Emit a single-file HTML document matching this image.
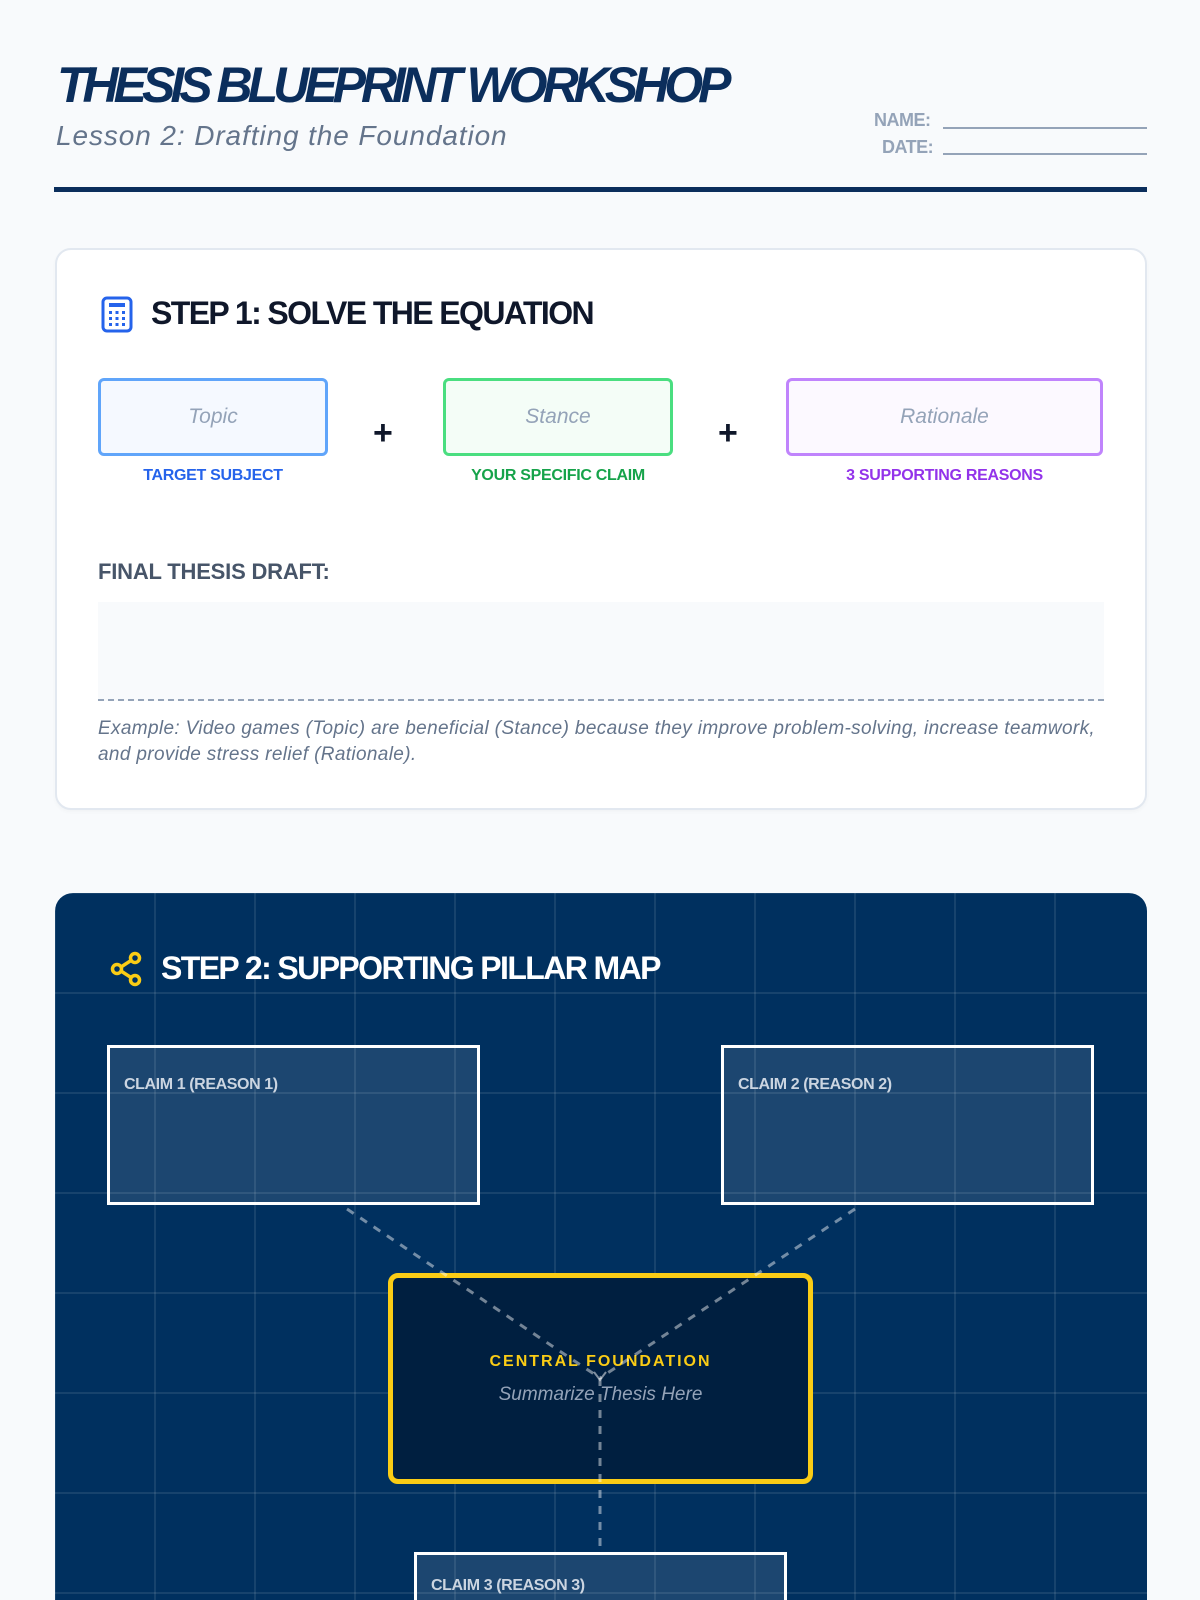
<!DOCTYPE html>
<html><head><meta charset="utf-8"><style>
*{margin:0;padding:0;box-sizing:border-box}
html,body{width:1200px;height:1600px;overflow:hidden}
body{background:#f8fafc;font-family:"Liberation Sans",sans-serif;position:relative}
.a{position:absolute;white-space:nowrap}
.h{font-weight:bold;letter-spacing:-1.6px}
.box{position:absolute;border:3px solid;border-radius:6px;display:flex;align-items:center;justify-content:center;font-style:italic;font-size:21px;color:#94a3b8}
.lbl{position:absolute;font-weight:bold;font-size:16px;text-align:center;letter-spacing:-0.3px}
.claim{position:absolute;border:3px solid #fff;background:rgba(255,255,255,0.11)}
.claim span{position:absolute;left:14px;top:28px;font-size:16px;font-weight:bold;color:#cbd5e1;letter-spacing:-0.4px}
</style></head><body>
<div class="a" style="left:57px;top:56px;font-size:50px;font-weight:bold;font-style:italic;color:#0b2e5c;letter-spacing:-5px;">THESIS BLUEPRINT WORKSHOP</div>
<div class="a" style="left:56px;top:120px;font-size:28px;font-style:italic;color:#64748b;letter-spacing:0.9px">Lesson 2: Drafting the Foundation</div>
<div class="a" style="left:874px;top:110px;font-size:18px;font-weight:bold;color:#94a3b8;letter-spacing:-0.5px">NAME:</div>
<div class="a" style="left:882px;top:137px;font-size:18px;font-weight:bold;color:#94a3b8;letter-spacing:-0.5px">DATE:</div>
<div class="a" style="left:943px;top:127px;width:204px;border-top:2px solid #94a3b8"></div>
<div class="a" style="left:943px;top:153px;width:204px;border-top:2px solid #94a3b8"></div>
<div class="a" style="left:54px;top:187px;width:1093px;height:5px;background:#0b2e5c"></div>

<div class="a" style="left:55px;top:248px;width:1092px;height:562px;background:#fff;border:2px solid #e2e8f0;border-radius:16px;box-shadow:0 2px 4px rgba(0,0,0,0.03)"></div>
<svg class="a" style="left:101px;top:296px" width="32" height="37" viewBox="0 0 32 37"><rect x="2" y="2" width="28" height="33" rx="4" fill="none" stroke="#2563eb" stroke-width="3"/><rect x="8" y="7" width="16" height="4" fill="#2563eb"/><g fill="#2563eb"><rect x="8" y="15" width="3" height="3"/><rect x="14.5" y="15" width="3" height="3"/><rect x="21" y="15" width="3" height="3"/><rect x="8" y="21" width="3" height="3"/><rect x="14.5" y="21" width="3" height="3"/><rect x="21" y="21" width="3" height="3"/><rect x="8" y="27" width="3" height="3"/><rect x="14.5" y="27" width="3" height="3"/><rect x="21" y="27" width="3" height="3"/></g></svg>
<div class="a h" style="left:151px;top:295px;font-size:32px;color:#0f172a">STEP 1: SOLVE THE EQUATION</div>

<div class="box" style="left:98px;top:378px;width:230px;height:78px;border-color:#60a5fa;background:#f5f9ff">Topic</div>
<div class="box" style="left:443px;top:378px;width:230px;height:78px;border-color:#4ade80;background:#f4fdf7">Stance</div>
<div class="box" style="left:786px;top:378px;width:317px;height:78px;border-color:#c084fc;background:#fcf9ff">Rationale</div>
<div class="a" style="left:373px;top:414px;font-size:34px;font-weight:bold;color:#0f172a">+</div>
<div class="a" style="left:718px;top:414px;font-size:34px;font-weight:bold;color:#0f172a">+</div>
<div class="lbl" style="left:98px;top:467px;width:230px;color:#2563eb">TARGET SUBJECT</div>
<div class="lbl" style="left:443px;top:467px;width:230px;color:#16a34a">YOUR SPECIFIC CLAIM</div>
<div class="lbl" style="left:786px;top:467px;width:317px;color:#9333ea">3 SUPPORTING REASONS</div>

<div class="a" style="left:98px;top:559px;font-size:22px;font-weight:bold;color:#475569;letter-spacing:-0.2px">FINAL THESIS DRAFT:</div>
<div class="a" style="left:98px;top:602px;width:1006px;height:99px;background:#f8fafc;border-bottom:2px dashed #94a3b8"></div>
<div class="a" style="left:98px;top:716px;font-size:19px;font-style:italic;color:#64748b;line-height:26px;letter-spacing:0.35px">Example: Video games (Topic) are beneficial (Stance) because they improve problem-solving, increase teamwork,<br>and provide stress relief (Rationale).</div>

<div class="a" style="left:55px;top:893px;width:1092px;height:707px;border-radius:18px 18px 0 0;overflow:hidden;background-color:#00305f;background-image:linear-gradient(to right,rgba(255,255,255,0.09) 2px,transparent 2px),linear-gradient(to bottom,rgba(255,255,255,0.09) 2px,transparent 2px);background-size:100px 100px;background-position:-1px -1px"></div>
<svg class="a" style="left:109px;top:951px" width="36" height="36" viewBox="0 0 36 36"><g fill="none" stroke="#facc15" stroke-width="3.5"><circle cx="26" cy="7" r="4.5"/><circle cx="8" cy="18" r="4.5"/><circle cx="26" cy="29" r="4.5"/><line x1="12" y1="16" x2="22" y2="9.5"/><line x1="12" y1="20" x2="22" y2="26.5"/></g></svg>
<div class="a h" style="left:161px;top:950px;font-size:32px;color:#fff">STEP 2: SUPPORTING PILLAR MAP</div>

<div class="claim" style="left:107px;top:1045px;width:373px;height:160px"><span>CLAIM 1 (REASON 1)</span></div>
<div class="claim" style="left:721px;top:1045px;width:373px;height:160px"><span>CLAIM 2 (REASON 2)</span></div>
<div class="claim" style="left:414px;top:1552px;width:373px;height:60px;border-bottom:none"><span style="top:22px">CLAIM 3 (REASON 3)</span></div>

<div class="a" style="left:388px;top:1273px;width:425px;height:211px;background:#001f40;border:5px solid #facc15;border-radius:10px"></div>
<div class="a" style="left:388px;top:1353px;width:425px;text-align:center;font-size:16px;font-weight:bold;color:#facc15;letter-spacing:2px">CENTRAL FOUNDATION</div>
<div class="a" style="left:388px;top:1384px;width:425px;text-align:center;font-size:19px;font-style:italic;color:#94a3b8">Summarize Thesis Here</div>

<svg class="a" style="left:0;top:0" width="1200" height="1600"><g stroke="rgba(255,255,255,0.45)" stroke-width="3" stroke-dasharray="8 8" fill="none"><line x1="347" y1="1209" x2="600" y2="1378"/><line x1="855" y1="1209" x2="600" y2="1378"/><line x1="600" y1="1378" x2="600" y2="1552"/></g><path d="M594 1372 L600 1380 L606 1372" stroke="rgba(255,255,255,0.5)" stroke-width="2" fill="none"/></svg>
</body></html>
